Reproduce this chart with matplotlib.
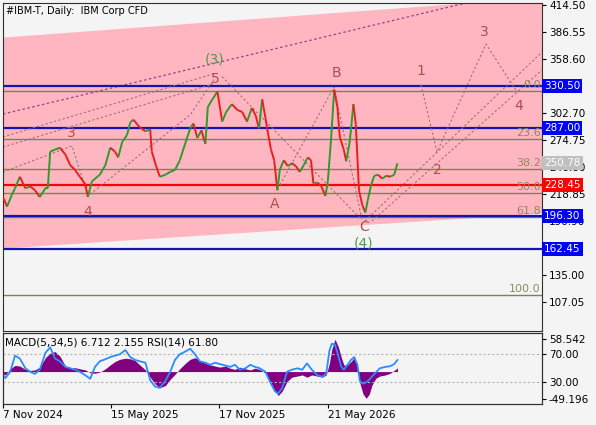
import matplotlib
matplotlib.use('Agg')
import matplotlib.pyplot as plt
from matplotlib.collections import LineCollection

plt.rcParams['font.family'] = ['DejaVu Sans']

# trading-day index (0 = 7 Nov 2024) and close price
bar_idx = [0, 5, 11, 15, 21, 28, 34, 40, 46, 53, 56, 59, 65, 71, 78, 84, 90, 96, 103, 106,
           111, 118, 121, 128, 134, 140, 144, 149, 155, 159, 163, 168, 171, 178, 184, 186, 191, 196, 203, 209,
           215, 221, 228, 234, 238, 243, 248, 253, 256, 261, 268, 274, 279, 286, 293, 299, 305, 311, 316, 320,
           324, 328, 331, 335, 339, 343, 346, 351, 356, 361, 366, 371, 376, 381, 385, 388, 393, 398, 403, 406,
           410, 414, 418, 421, 426, 429, 433, 435, 438, 441, 445, 449, 453, 456, 460, 464, 469, 474, 479, 484,
           489, 493]
close = [216, 206, 218, 225, 237, 225, 227, 223, 216, 225, 225, 263, 265, 267, 260, 249, 244, 237, 229, 216,
         232, 237, 239, 249, 267, 263, 257, 273, 280, 293, 296, 291, 288, 284, 286, 263, 249, 237, 239, 242,
         244, 254, 272, 287, 292, 277, 285, 271, 309, 316, 325, 294, 304, 312, 306, 304, 294, 308, 300, 287,
         317, 298, 283, 265, 254, 223, 244, 254, 248, 251, 248, 242, 249, 257, 254, 230, 231, 227, 217, 232,
         275, 327, 309, 278, 265, 253, 271, 286, 312, 291, 223, 208, 200, 213, 228, 238, 239, 235, 238, 237,
         239, 250.78]

# oscillator window: MACD(5,34,5) main values and RSI(14)
osc_idx = [0, 3, 9, 15, 21, 28, 34, 40, 46, 53, 59, 65, 71, 78, 84, 90, 96, 103, 109, 115,
           121, 128, 134, 140, 146, 153, 159, 165, 171, 178, 184, 190, 196, 203, 209, 215, 221, 228, 234, 240,
           246, 253, 259, 265, 271, 278, 284, 290, 296, 303, 309, 315, 321, 328, 334, 340, 344, 349, 355, 361,
           368, 374, 380, 386, 393, 399, 404, 408, 411, 415, 419, 423, 426, 430, 435, 439, 443, 446, 450, 454,
           458, 461, 466, 471, 478, 484, 489, 493]
macd_vals = [-4, -6, 5, 11, 10, 4, 2, 3, 8, 25, 33, 36, 28, 10, 6, 7, 5, 3, -2, -3,
             -1, 5, 12, 18, 22, 24, 23, 20, 12, 3, -10, -22, -29, -25, -14, -5, 5, 15, 22, 25,
             20, 15, 12, 10, 8, 10, 6, 4, 8, 5, 3, 6, 4, -3, -18, -35, -43, -35, -18, -10,
             -8, -6, -10, -6, -8, -10, -6, 15, 40, 58, 45, 25, 12, 11, 18, 25, 10, -20, -40, -48,
             -40, -25, -12, -8, -6, -3, 2, 6.712]
rsi_vals = [40, 36, 45, 68, 64, 50, 45, 42, 48, 72, 80, 64, 60, 52, 50, 48, 45, 40, 35, 52,
            60, 63, 66, 68, 70, 76, 66, 62, 60, 58, 33, 24, 22, 32, 45, 62, 70, 74, 78, 70,
            60, 58, 55, 58, 56, 54, 52, 55, 48, 50, 55, 52, 50, 45, 30, 17, 14, 22, 45, 48,
            50, 48, 57, 48, 40, 38, 42, 75, 85, 84, 68, 52, 48, 54, 62, 66, 55, 32, 28, 30,
            34, 38, 44, 50, 52, 53, 56, 61.8]

date_ticks = [0, 135, 270, 406]
date_labels = ['7 Nov 2024', '15 May 2025', '17 Nov 2025', '21 May 2026']
price_ticks = [414.50, 386.55, 358.60, 330.65, 302.70, 274.75, 246.80, 218.85, 190.90, 162.95, 135.00, 107.05]
# ticks whose labels sit fully under a level box
hidden_ticks = [330.65, 162.95]

# marked levels and their label colours
levels = [330.50, 287.00, 250.78, 228.45, 196.30, 162.45]
level_colors = ['#0000ff', '#0000ff', '#c0c0c0', '#ff0000', '#0000ff', '#0000ff']
fib_names = ['0.0', '23.6', '38.2', '50.0', '61.8', '100.0']
fib_prices = [325.5, 275.8, 245.0, 220.1, 195.3, 114.8]

# rising pink channel
chan_x = [0, 673.75]
chan_low = [163.3, 199.5]
chan_high = [381.4, 422.6]

# elliott wave paths (bar index, price)
wave_paths = [
    ([0, 262.5], [278.1, 343.2]),
    ([0, 262.5], [267.7, 332.8]),
    ([0, 86.25, 106.25, 233.75, 263.75], [241.9, 268.8, 217.1, 300.8, 337.4]),
    ([273.75, 446.25], [340.5, 194.3]),
    ([346.25, 413.75, 448.75], [228.5, 329.7, 192.3]),
    ([452.5, 673.75], [191.2, 365.9]),
    ([461.25, 673.75], [191.2, 347.3]),
    ([522.5, 542.5, 603.75, 642.5], [331.8, 262.6, 374.2, 324.6]),
]
wave_labels = ['3', '4', '5', 'A', 'B', 'C', '1', '2', '3', '4']
wave_lx = [85, 106.25, 265, 340, 416.25, 451.25, 522.5, 542.5, 601.25, 645]
wave_ly = [282.2, 200.5, 338, 208.8, 344.2, 185.5, 346.3, 244, 386.6, 310.1]
major_labels = ['(3)', '(4)']
major_lx = [265, 451.25]
major_ly = [357.7, 168.0]

W, H = 596, 425
fig = plt.figure(figsize=(W / 100, H / 100), dpi=100, facecolor='#f4f4f4')
ax = fig.add_axes([3 / W, 94 / H, 539 / W, 328 / H])
ax.set_facecolor('#f4f4f4')
ax.set_xlim(0, 673.75)
ax.set_ylim(77.5, 416.6)

ax.fill_between(chan_x, chan_low, chan_high, color='#ffb6c1', lw=0, zorder=0)
ax.plot([0, 673.75], [301.8, 435.5], color='#9c3c8c', lw=0.9, ls=(0, (2, 2)), zorder=2)

for name, p in zip(fib_names, fib_prices):
    ax.axhline(p, color='#6f8a4c', lw=1, zorder=1)
    ax.text(0.998, p + 1, name, transform=ax.get_yaxis_transform(), ha='right', va='bottom',
            fontsize=8, color='#8a8a5e', zorder=3)
ax.axhline(250.78, color='#c8c8c8', lw=0.8, zorder=1)
for p in [330.50, 287.00, 196.30, 162.45]:
    ax.axhline(p, color='#1414b4', lw=1.6, zorder=2)
ax.axhline(228.45, color='#ff0000', lw=1.6, zorder=2)

for xs, ys in wave_paths:
    ax.plot(xs, ys, color='#9a7272', lw=0.8, ls=(0, (2, 2)), zorder=2)

segs = [[(bar_idx[i], close[i]), (bar_idx[i + 1], close[i + 1])] for i in range(len(close) - 1)]
cols = ['#2e9a2e' if close[i + 1] >= close[i] else '#e8201c' for i in range(len(close) - 1)]
ax.add_collection(LineCollection(segs, colors=cols, linewidths=1.4, zorder=4))

for t, x, y in zip(wave_labels, wave_lx, wave_ly):
    ax.text(x, y, t, ha='center', va='center', fontsize=10, color='#b04c4c', zorder=5)
for t, x, y in zip(major_labels, major_lx, major_ly):
    ax.text(x, y, t, ha='center', va='center', fontsize=10, color='#4e9a4e', zorder=5)

ax.text(0.006, 0.99, '#IBM-T, Daily:  IBM Corp CFD', transform=ax.transAxes, ha='left', va='top',
        fontsize=7, color='black')

ax.yaxis.tick_right()
ax.set_yticks(price_ticks)
ax.set_yticklabels(['' if v in hidden_ticks else '%.2f' % v for v in price_ticks])
ax.tick_params(axis='y', length=3, labelsize=7.5, pad=2)
ax.set_xticks([])
for p, c in zip(levels, level_colors):
    ax.text(1.004, p, '%.2f' % p, transform=ax.get_yaxis_transform(), ha='left', va='center',
            fontsize=7.5, color='white', clip_on=False, zorder=6,
            bbox=dict(boxstyle='square,pad=0.2', fc=c, ec='none'))
for s in ax.spines.values():
    s.set_linewidth(0.8)
    s.set_color('#303030')

# oscillator window
ax2 = fig.add_axes([3 / W, 21 / H, 539 / W, 71 / H])
ax2.set_facecolor('#f4f4f4')
ax2.set_ylim(-58.2, 69.3)
ax2.fill_between(osc_idx, 0, macd_vals, color='#800080', lw=0)
ax3 = ax2.twinx()
ax3.set_ylim(-1, 100.4)
for lv in [30, 70]:
    ax3.axhline(lv, color='#b4b4b4', lw=0.8, ls=(0, (2, 2)))
ax3.plot(osc_idx, rsi_vals, color='#2a8cff', lw=1.3)
ax3.text(0.004, 0.93, 'MACD(5,34,5) 6.712 2.155 RSI(14) 61.80', transform=ax3.transAxes,
         ha='left', va='top', fontsize=7.5, color='black', zorder=6)

ax2.yaxis.tick_right()
ax2.set_yticks([-49.196, 58.542])
ax2.set_yticklabels(['-49.196', '58.542'])
ax2.tick_params(axis='y', length=3, labelsize=7.5, pad=2)
ax3.set_yticks([30, 70])
ax3.set_yticklabels(['30.00', '70.00'])
ax3.tick_params(axis='y', length=3, labelsize=7.5, pad=2)
ax2.set_xlim(0, 673.75)
ax2.set_xticks(date_ticks)
ax2.set_xticklabels(date_labels, ha='left')
ax2.tick_params(axis='x', length=3, labelsize=7.5, pad=1)
for a in (ax2, ax3):
    for s in a.spines.values():
        s.set_linewidth(0.8)
        s.set_color('#303030')

fig.savefig('out.png', dpi=100, facecolor=fig.get_facecolor())
